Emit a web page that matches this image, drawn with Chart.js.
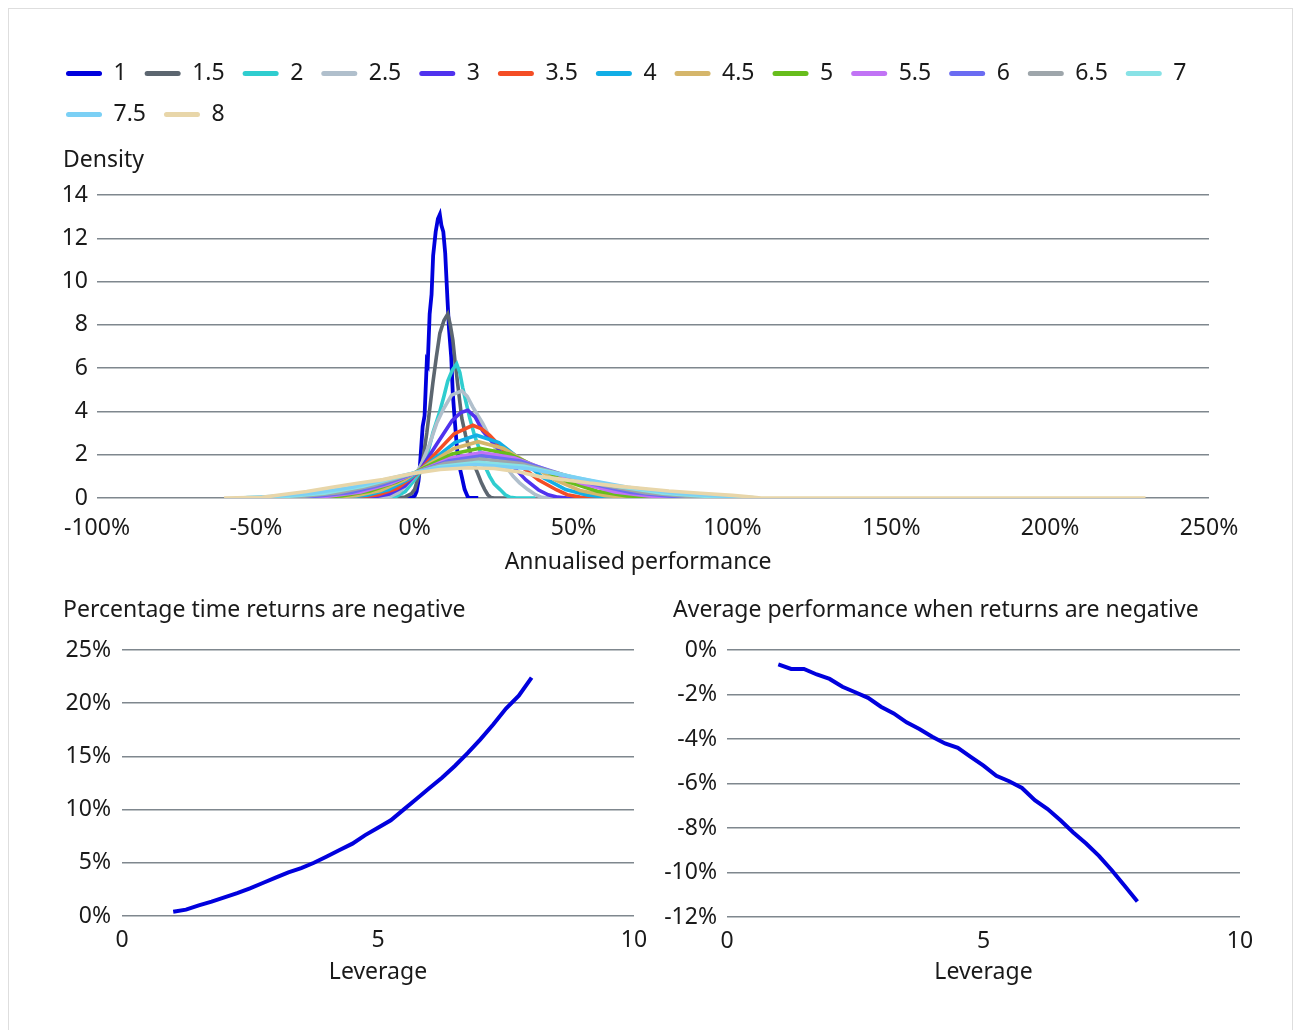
<!DOCTYPE html>
<html>
<head>
<meta charset="utf-8">
<script src="https://cdn.jsdelivr.net/npm/chart.js@4.4.1/dist/chart.umd.min.js"></script>
<style>
body{margin:0;background:#fff;font-family:"Noto Sans",sans-serif;}
#frame{position:absolute;left:8px;top:8px;width:1285px;height:1040px;border:1px solid #dedede;box-sizing:border-box;}
canvas{position:absolute;}
.ttl{position:absolute;font-size:23px;line-height:23px;color:#1a1a1a;white-space:nowrap;}
</style>
</head>
<body>
<div id="frame"></div>
<canvas id="density" width="1284" height="577" style="left:8px;top:8px"></canvas>
<canvas id="negPct" width="642" height="445" style="left:8px;top:585px"></canvas>
<canvas id="negAvg" width="642" height="445" style="left:650px;top:585px"></canvas>
<div class="ttl" style="left:63px;top:147px">Density</div>
<div class="ttl" style="left:63px;top:597px">Percentage time returns are negative</div>
<div class="ttl" style="left:673px;top:597px">Average performance when returns are negative</div>
<script>
// leverage levels shown in the legend
const leverageLabels = ['1','1.5','2','2.5','3','3.5','4','4.5','5','5.5','6','6.5','7','7.5','8'];

// density curves: [annualised performance %, density]
const lev1 = [[-4,0],[-1,0.02],[0,0.1],[0.6,0.3],[1.2,0.8],[1.6,1.4],[2.5,3.3],[3.1,3.8],[3.8,6.3],[4.1,6.2],[4.7,8.5],[5.3,9.4],[5.8,11.2],[6.6,12.3],[7.3,12.9],[7.9,13.1],[8.4,12.6],[9,12.3],[9.6,11.3],[10.3,9.2],[10.8,7.8],[11.5,6.5],[12,4.8],[12.6,3.6],[13.3,2.3],[14,1.5],[14.8,1.0],[15.7,0.4],[16.7,0.05],[17.5,0],[20,0]];
const lev1_5 = [[-6,0],[-3,0.05],[-1,0.2],[0,0.4],[1,0.9],[2.2,1.4],[3,2.2],[3.8,3.0],[4.8,4.2],[5.7,5.3],[6.8,6.5],[7.9,7.6],[9.2,8.2],[10.4,8.5],[11.2,8.0],[12,7.3],[12.7,6.3],[13.5,5.3],[14.8,3.7],[16,2.9],[17.3,2.2],[18.5,1.6],[19.8,1.15],[21,0.7],[22,0.4],[23,0.15],[24,0.02],[25,0],[30,0]];
const lev2 = [[-10,0],[-6,0.06],[-3,0.3],[0,0.85],[1.6,1.2],[3.8,1.9],[5.7,3.0],[7.9,4.0],[9.2,4.7],[10.4,5.4],[11.8,5.9],[13.2,6.2],[14.2,5.8],[15.1,5.1],[16.2,4.4],[17.3,3.7],[18.8,2.9],[20.5,2.2],[22,1.5],[23.6,1.0],[25,0.65],[26.8,0.4],[28.5,0.15],[30,0.03],[32,0],[38,0]];
const lev2_5 = [[-12,0],[-8,0.05],[-5,0.25],[-2.5,0.6],[0,1.0],[2.2,1.6],[4.7,2.5],[6.9,3.45],[9,4.1],[11.6,4.75],[14.8,4.95],[16.5,4.7],[18.3,4.2],[21.4,3.45],[24.6,2.5],[27,1.85],[29,1.4],[31,1.0],[33,0.7],[35.5,0.4],[38,0.15],[40,0.03],[42,0],[48,0]];
const lev3 = [[-16,0],[-13,0.045],[-8,0.18],[-3.1,0.55],[1.85,1.32],[6.8,2.46],[11.75,3.57],[14.5,3.95],[16.7,4.05],[19,3.75],[21.4,3.1],[25.8,2.35],[30,1.6],[35,0.83],[39,0.37],[42,0.15],[45,0.04],[48,0],[55,0]];
const lev3_5 = [[-20,0],[-17.4,0.04],[-11.5,0.15],[-5.5,0.45],[0.45,1.09],[6.4,2.04],[12.35,2.96],[18.3,3.36],[21,3.2],[23.6,2.9],[29,2.07],[34,1.4],[39,0.83],[44.7,0.37],[48,0.15],[52,0.04],[55,0],[62,0]];
const lev4 = [[-25,0],[-21.9,0.03],[-15,0.13],[-8.1,0.39],[-1.2,0.94],[5.7,1.76],[12.6,2.56],[19.5,2.9],[26.5,2.56],[33.5,1.76],[40.5,0.94],[47.5,0.39],[54.5,0.13],[61.5,0.03],[65,0],[70,0]];
const lev4_5 = [[-29,0],[-26.2,0.03],[-18.5,0.11],[-10.8,0.35],[-3.1,0.85],[4.6,1.58],[12.3,2.29],[20,2.6],[28,2.29],[36,1.58],[44,0.85],[52,0.35],[60,0.11],[68,0.03],[72,0],[80,0]];
const lev5 = [[-34,0],[-31.7,0.025],[-23,0.1],[-14.3,0.31],[-5.6,0.75],[3.1,1.4],[11.8,2.03],[20.5,2.3],[29.75,2.03],[39,1.4],[48.25,0.75],[57.5,0.31],[66.75,0.1],[76,0.025],[80,0],[85,0]];
const lev5_5 = [[-38,0],[-36,0.02],[-26.5,0.09],[-17,0.28],[-7.5,0.68],[2,1.27],[11.5,1.85],[21,2.1],[31.5,1.85],[42,1.27],[52.5,0.68],[63,0.28],[73.5,0.09],[84,0.02],[88,0],[92,0]];
const lev6 = [[-42,0],[-40.5,0.02],[-30.25,0.09],[-20,0.26],[-9.75,0.63],[0.5,1.18],[10.75,1.72],[21,1.95],[32.75,1.72],[44.5,1.18],[56.25,0.63],[68,0.26],[79.75,0.09],[91.5,0.02],[95,0],[98,0]];
const lev6_5 = [[-48,0],[-46.1,0.02],[-35,0.08],[-23.9,0.24],[-12.8,0.59],[-1.7,1.09],[9.4,1.59],[20.5,1.8],[33.5,1.59],[46.5,1.09],[59.5,0.59],[72.5,0.24],[85.5,0.08],[98.5,0.02],[101,0],[103,0]];
const lev7 = [[-54,0],[-52.6,0.02],[-40.5,0.07],[-28.4,0.22],[-16.3,0.54],[-4.2,1.0],[7.9,1.46],[20,1.65],[34.5,1.46],[49,1.0],[63.5,0.54],[78,0.22],[92.5,0.07],[104,0.02],[106,0]];
const lev7_5 = [[-56,0],[-52,0.02],[-45.5,0.07],[-32.6,0.21],[-19.7,0.5],[-6.8,0.94],[6.1,1.37],[19,1.55],[35,1.37],[51,0.94],[67,0.5],[83,0.21],[99,0.07],[106,0.02],[108,0]];
const lev8 = [[-60,0],[-48,0.03],[-42,0.15],[-34,0.3],[-26,0.5],[-18,0.68],[-10,0.85],[0,1.15],[8,1.32],[17,1.4],[25,1.36],[33,1.2],[39,1.0],[47,0.85],[55,0.69],[63,0.56],[71,0.45],[80,0.32],[90,0.22],[100,0.12],[106,0.05],[109,0],[230,0]];

const densityCurves = [lev1, lev1_5, lev2, lev2_5, lev3, lev3_5, lev4, lev4_5, lev5, lev5_5, lev6, lev6_5, lev7, lev7_5, lev8];

// lower panels, by leverage
const leverage = [1,1.25,1.5,1.75,2,2.25,2.5,2.75,3,3.25,3.5,3.75,4,4.25,4.5,4.75,5,5.25,5.5,5.75,6,6.25,6.5,6.75,7,7.25,7.5,7.75,8];
const pctNegative = [0.4,0.6,1.0,1.35,1.75,2.15,2.6,3.1,3.6,4.1,4.5,5.0,5.6,6.2,6.8,7.6,8.3,9.0,10.0,11.0,12.0,13.0,14.1,15.3,16.6,18.0,19.5,20.7,22.4];
const avgNegative = [-0.65,-0.85,-0.85,-1.1,-1.3,-1.65,-1.9,-2.15,-2.55,-2.85,-3.25,-3.55,-3.9,-4.2,-4.4,-4.8,-5.2,-5.65,-5.9,-6.2,-6.75,-7.15,-7.65,-8.2,-8.7,-9.25,-9.9,-10.6,-11.3];

const curveColors = ['#0000dd','#5c6670','#2fcdcf','#b0bfcc','#5032ee','#f44d25','#12aee6','#d5b66b','#67bd1c','#c173f5','#6b6cf2','#9ea6ab','#88e2e6','#7bd0f5','#e8d6a9'];
const gridColor = '#7f878e';
const lineBlue = '#0000dd';

Chart.defaults.font.family = '"Noto Sans", sans-serif';
Chart.defaults.font.size = 23;
Chart.defaults.color = '#1a1a1a';

const hidden = {ticks:{display:false}, grid:{display:false}, border:{display:false}};
// keep the x axis from asking for extra side room, layout padding handles it
const noSidePad = s => { s.paddingLeft = 0; s.paddingRight = 0; };

new Chart(document.getElementById('density'), {
  type: 'line',
  data: {
    datasets: densityCurves.map((pts, i) => ({
      label: leverageLabels[i],
      data: pts.map(p => ({x: p[0], y: p[1]})),
      borderColor: curveColors[i],
      backgroundColor: curveColors[i],
      borderWidth: i === 0 ? 3.8 : 3.6,
      pointRadius: 0,
      tension: 0,
      order: densityCurves.length - i
    }))
  },
  options: {
    responsive: false, animation: false, devicePixelRatio: 1,
    layout: {padding: {top: 36, left: 40, right: 16, bottom: 0}},
    plugins: {
      tooltip: {enabled: false},
      legend: {
        align: 'start',
        labels: {
          boxWidth: 36, boxHeight: 5, padding: 18,
          useBorderRadius: true, borderRadius: 2.5,
          font: {size: 23},
          generateLabels: c => Chart.defaults.plugins.legend.labels.generateLabels(c).map(l => ({...l, lineWidth: 0})),
          sort: (a, b) => a.datasetIndex - b.datasetIndex
        }
      }
    },
    scales: {
      x: {
        type: 'linear', min: -100, max: 250,
        ticks: {stepSize: 50, padding: 9, callback: v => v + '%'},
        grid: {display: false}, border: {display: false},
        title: {display: true, text: 'Annualised performance     ', padding: {top: 0, bottom: 9}},
        afterFit: s => { s.height = 87; noSidePad(s); }
      },
      xTop: Object.assign({type: 'linear', position: 'top', afterFit: s => { s.height = 59; }}, hidden),
      y: {
        min: 0, max: 14,
        ticks: {stepSize: 2, padding: 9},
        grid: {color: gridColor, lineWidth: 1.5, drawTicks: false},
        border: {display: false},
        afterFit: s => { s.width = 49; }
      },
      yRight: Object.assign({type: 'linear', position: 'right', afterFit: s => { s.width = 67; }}, hidden)
    }
  }
});

function lowerChart(id, values, yMin, yMax, yStep, pad, yWidth, xHeight, tickPad) {
  return new Chart(document.getElementById(id), {
    type: 'line',
    data: {
      datasets: [{
        data: leverage.map((l, i) => ({x: l, y: values[i]})),
        borderColor: lineBlue, borderWidth: 4, pointRadius: 0, tension: 0
      }]
    },
    options: {
      responsive: false, animation: false, devicePixelRatio: 1,
      layout: {padding: pad},
      plugins: {legend: {display: false}, tooltip: {enabled: false}},
      scales: {
        x: {
          type: 'linear', min: 0, max: 10,
          ticks: {stepSize: 5, padding: 3},
          grid: {display: false}, border: {display: false},
          title: {display: true, text: 'Leverage', padding: {top: 0, bottom: 4}},
          afterFit: s => { s.height = xHeight; noSidePad(s); }
        },
        y: {
          min: yMin, max: yMax,
          ticks: {stepSize: yStep, padding: tickPad, callback: v => v + '%'},
          grid: {color: gridColor, lineWidth: 1.5, drawTicks: false},
          border: {display: false},
          afterFit: s => { s.width = yWidth; }
        }
      }
    }
  });
}

lowerChart('negPct', pctNegative, 0, 25, 5, {top: 65, left: 40, right: 16, bottom: 40}, 74, 74, 11);
lowerChart('negAvg', avgNegative, -12, 0, 2, {top: 65, left: 8, right: 52, bottom: 40}, 69, 73, 10);
</script>
</body>
</html>
